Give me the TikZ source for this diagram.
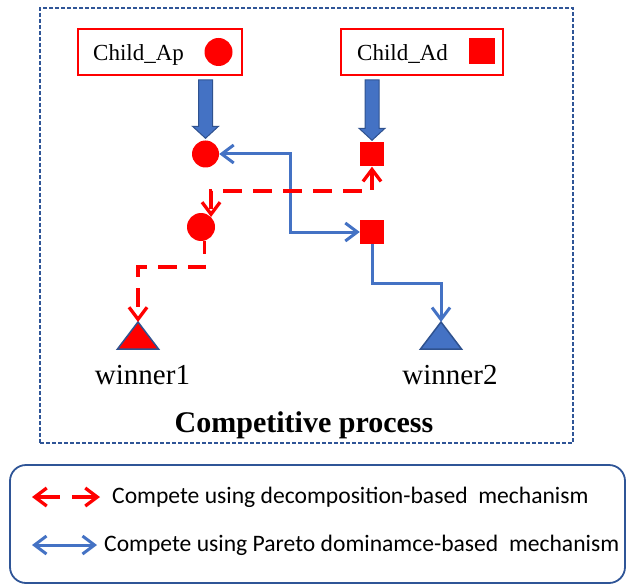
\documentclass[tikz,border=0pt]{standalone}
\usepackage{fontspec}
\setmainfont{Liberation Serif}
\newfontfamily\legendfont{Carlito}
\usetikzlibrary{arrows.meta,calc}
\definecolor{pred}{RGB}{255,0,0}
\definecolor{pblue}{RGB}{68,114,196}
\definecolor{pdark}{RGB}{47,82,143}
\definecolor{frameblue}{RGB}{47,85,151}

\tikzset{
  barb/.tip={Straight Barb[length=12pt,width=18pt]},
  childbox/.style={draw=pred, line width=1.8pt, minimum height=46, inner sep=0},
  childtext/.style={anchor=base west, inner sep=0, font=\fontsize{23}{27}\selectfont},
  dotnode/.style={circle, fill=pred, minimum size=27, inner sep=0},
  sqnode/.style={rectangle, fill=pred, minimum size=24, inner sep=0},
  bluelink/.style={draw=pblue, line width=3pt},
  redlink/.style={draw=pred, line width=3.3pt, dash pattern=on 19pt off 11pt},
  blockarrow/.style={fill=pblue, draw=pdark, line width=1pt, line join=miter},
  winnertext/.style={anchor=base, inner sep=0, font=\fontsize{29}{33}\selectfont},
  tri/.style={line width=1.5pt, draw=pdark, line join=miter},
  legendtext/.style={anchor=west, inner sep=0, font=\legendfont\fontsize{23.6}{27}\selectfont},
}

% broad arrow from coordinate #1 down to coordinate #2
\newcommand\broadarrow[2]{%
  \draw[blockarrow] ($(#1)+(-7,4)$) -- ($(#2)+(-7,-14)$) -- ($(#2)+(-13,-14)$)
    -- ($(#2)+(0,-2)$) -- ($(#2)+(13,-14)$) -- ($(#2)+(7,-14)$)
    -- ($(#1)+(7,4)$) -- cycle;}

\begin{document}
\begin{tikzpicture}[x=1pt,y=-1pt]
\useasboundingbox (0,0) rectangle (628,585);

% dashed frame of the competitive process
\node[draw=frameblue, line width=1.8pt, dash pattern=on 4pt off 2pt,
      minimum width=533, minimum height=435, inner sep=0] (frame) at (306.5,225.5) {};

% parent boxes
\node[childbox, minimum width=164] (ap) at (160,52) {};
\node[childtext] (aptext) at (93,61) {Child\_Ap};
\node[dotnode, minimum size=28] (apdot) at (218.5,52) {};

\node[childbox, minimum width=162] (ad) at (422,52) {};
\node[childtext] (adtext) at (357,61) {Child\_Ad};
\node[sqnode, minimum size=26] (adsq) at (482,51) {};

% individuals
\node[dotnode] (c1) at (205.5,154) {};
\node[sqnode] (s1) at (372,154.5) {};
\node[dotnode, minimum size=28] (c2) at (201,227) {};
\node[sqnode] (s2) at (372,232) {};

% broad arrows from parents
\coordinate (apout) at (c1 |- ap.south);
\coordinate (adout) at (s1 |- ad.south);
\broadarrow{apout}{c1.north}
\broadarrow{adout}{s1.north}

% winners
\coordinate (w1) at (138,322);
\coordinate (w2) at (441,322);
\draw[tri, fill=pred] (w1) -- ++(-20.5,27) -- ++(41,0) -- cycle;
\draw[tri, fill=pblue] (w2) -- ++(-20.5,27) -- ++(41,0) -- cycle;
\node[winnertext] (w1text) at (142.5,384) {winner1};
\node[winnertext] (w2text) at (450,384) {winner2};

% Pareto dominance competitions
\coordinate (bturn) at (290,232);
\draw[bluelink, barb-barb] (c1.east) -| (bturn) -- (s2.west);
\coordinate (bdown) at (0,283);
\draw[bluelink, -barb] (s2.south) |- (w2 |- bdown) -- (w2);

% decomposition competitions
\coordinate (rturn) at (0,191);
\draw[redlink, barb-barb] (s1.south) |- (c2.45 |- rturn) -- (c2.45);
\coordinate (rturn2) at (0,267);
\draw[redlink, dash phase=6pt, -barb] (c2.-75) |- (w1 |- rturn2) -- (w1);

\node[anchor=base, inner sep=0, font=\bfseries\fontsize{30}{34}\selectfont] (title) at (304,432) {Competitive process};

% legend
\node[draw=frameblue, line width=1.8pt, rounded corners=16pt,
      minimum width=615, minimum height=118, inner sep=0] (legend) at (317.5,524) {};
\coordinate (la1) at (32,497);
\coordinate (lb1) at (100,497);
\draw[redlink, dash pattern=on 24pt off 12pt, barb-barb] (la1) -- (lb1);
\node[legendtext] (lt1) at (112,497) {Compete using decomposition-based\ \ mechanism};
\coordinate (la2) at (32,545);
\coordinate (lb2) at (97,545);
\draw[bluelink, barb-barb] (la2) -- (lb2);
\node[legendtext] (lt2) at (104,545) {Compete using Pareto dominamce-based\ \ mechanism};
\end{tikzpicture}
\end{document}
